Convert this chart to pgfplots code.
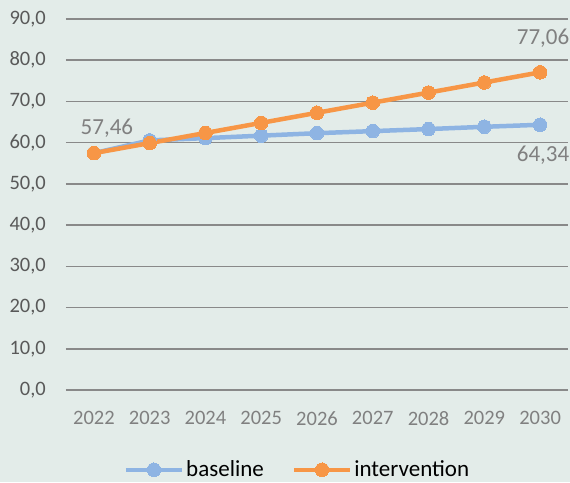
\documentclass[border=0pt]{standalone}
\usepackage{pgfplots}
\pgfplotsset{compat=1.18}
\usepackage{fontspec}
\setmainfont{Carlito}
\definecolor{bgc}{RGB}{227,236,233}
\definecolor{gridc}{RGB}{137,137,137}
\definecolor{tickc}{RGB}{89,89,89}
\definecolor{labc}{RGB}{128,128,128}
\definecolor{bluec}{RGB}{142,180,227}
\definecolor{orangec}{RGB}{247,150,70}
\begin{document}
\begin{tikzpicture}[x=1pt,y=1pt]
\fill[bgc] (0,0) rectangle (570,482);
\path[use as bounding box] (0,0) rectangle (570,482);
\begin{axis}[
  at={(66pt,92pt)}, anchor=south west,
  scale only axis, width=502pt, height=371pt,
  xmin=-0.5, xmax=8.5, ymin=0, ymax=90,
  xtick={0,...,8},
  xticklabels={2022,2023,2024,2025,2026,2027,2028,2029,2030},
  ytick={0,10,...,90},
  yticklabels={{0,0},{10,0},{20,0},{30,0},{40,0},{50,0},{60,0},{70,0},{80,0},{90,0}},
  axis line style={draw=none},
  major tick length=0pt,
  ymajorgrids, grid style={gridc, line width=1.5pt},
  tick label style={font=\fontsize{20.5}{24}\selectfont, inner sep=0pt},
  yticklabel style={anchor=east, xshift=-20pt, text=tickc},
  xticklabel style={anchor=north, yshift=-21pt, text=labc},
  clip=false,
  legend columns=2,
  legend style={at={(axis description cs:0.461,-0.215)}, anchor=center, draw=none, fill=none,
    font=\fontsize{23}{27}\selectfont, text=black, inner sep=0pt,
    /tikz/every even column/.append style={column sep=26pt}},
  legend image code/.code={\draw[mark repeat=2,mark phase=2,#1] plot coordinates {(0pt,0pt) (28pt,0pt) (56pt,0pt)};},
]
\addplot[bluec, line width=4.5pt, mark=*, mark size=6.8pt, mark options={fill=bluec, draw=bluec, line width=0pt}]
  coordinates {(0,57.46) (1,60.55) (2,61.1) (3,61.7) (4,62.3) (5,62.8) (6,63.3) (7,63.85) (8,64.34)};
\addlegendentry{baseline}
\addplot[orangec, line width=4.5pt, mark=*, mark size=6.8pt, mark options={fill=orangec, draw=orangec, line width=0pt}]
  coordinates {(0,57.46) (1,59.9) (2,62.35) (3,64.8) (4,67.25) (5,69.7) (6,72.15) (7,74.6) (8,77.06)};
\addlegendentry{intervention}
\node[text=labc, font=\fontsize{23}{27}\selectfont, inner sep=0pt, anchor=center, xshift=13pt, yshift=25pt] at (axis cs:0,57.46) {57,46};
\node[text=labc, font=\fontsize{23}{27}\selectfont, inner sep=0pt, anchor=center, xshift=3pt, yshift=34pt] at (axis cs:8,77.06) {77,06};
\node[text=labc, font=\fontsize{23}{27}\selectfont, inner sep=0pt, anchor=center, xshift=3pt, yshift=-30pt] at (axis cs:8,64.34) {64,34};
\end{axis}
\end{tikzpicture}
\end{document}
